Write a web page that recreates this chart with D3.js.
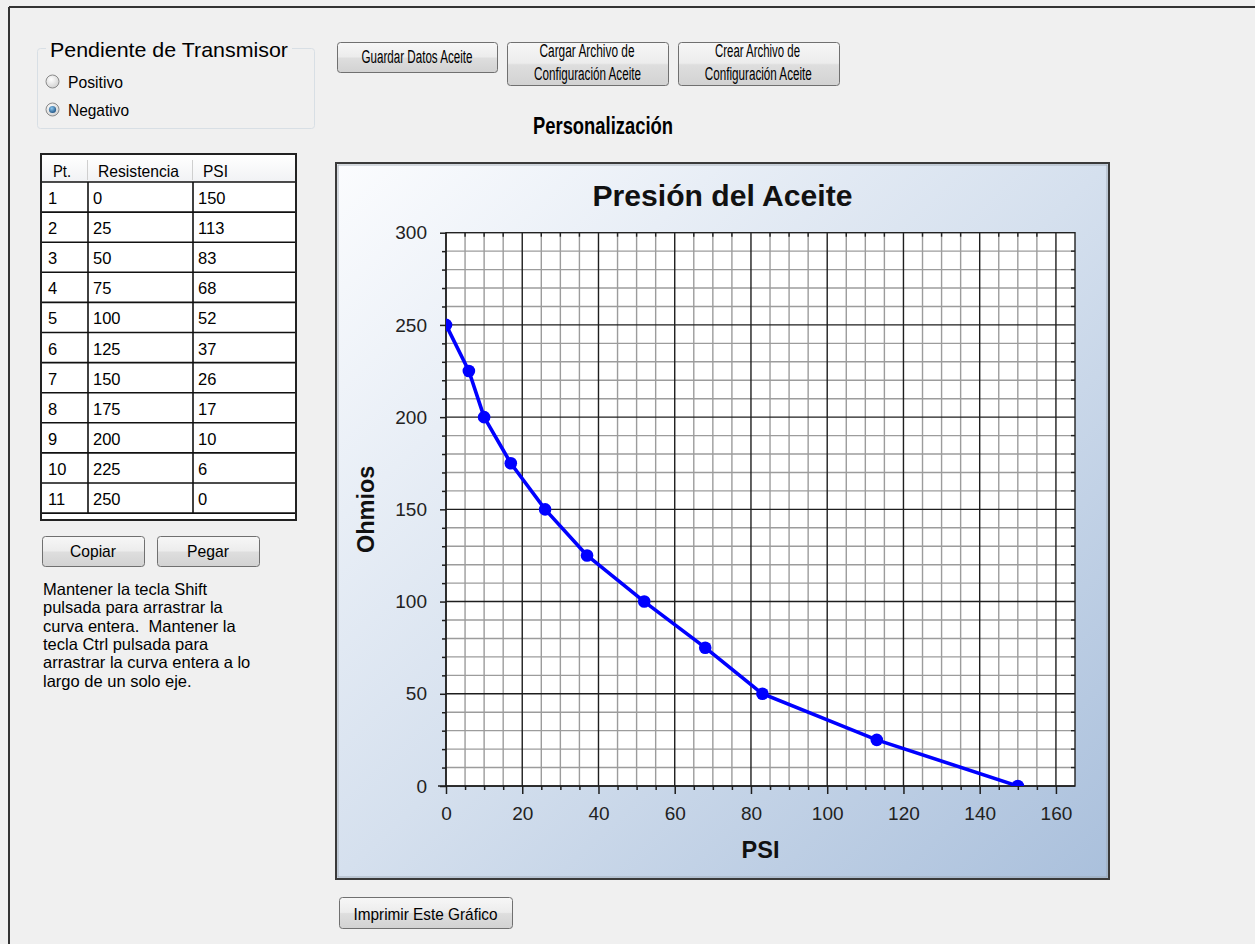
<!DOCTYPE html>
<html>
<head>
<meta charset="utf-8">
<script src="https://cdn.jsdelivr.net/npm/d3@7"></script>
<style>
  html, body { margin: 0; padding: 0; background: #f0f0f0; }
  svg { display: block; font-family: "Liberation Sans", Arial, sans-serif; }
  text { white-space: pre; }
</style>
</head>
<body>
<svg id="root" width="1255" height="944"></svg>
<script>
// ---------------- DATA ----------------
const pointIds    = ["1","2","3","4","5","6","7","8","9","10","11"];
const resistencia = [0, 25, 50, 75, 100, 125, 150, 175, 200, 225, 250];
const psi         = [150, 113, 83, 68, 52, 37, 26, 17, 10, 6, 0];
const tableHeaders = ["Pt.", "Resistencia", "PSI"];
const xTicks = [0, 20, 40, 60, 80, 100, 120, 140, 160];
const yTicks = [0, 50, 100, 150, 200, 250, 300];
const chartTitle = "Presión del Aceite";
const xAxisTitle = "PSI";
const yAxisTitle = "Ohmios";
const pageTitle = "Personalización";
const groupTitle = "Pendiente de Transmisor";
const radioLabels = ["Positivo", "Negativo"];
const helpLines = [
  "Mantener la tecla Shift",
  "pulsada para arrastrar la",
  "curva entera.  Mantener la",
  "tecla Ctrl pulsada para",
  "arrastrar la curva entera a lo",
  "largo de un solo eje."
];

// ---------------- SETUP ----------------
const svg = d3.select("#root");
const defs = svg.append("defs");

const btnGrad = defs.append("linearGradient").attr("id", "btnGrad")
  .attr("x1", 0).attr("y1", 0).attr("x2", 0).attr("y2", 1);
[["0%", "#f7f7f7"], ["48%", "#ececec"], ["52%", "#dedede"], ["100%", "#d2d2d2"]]
  .forEach(([o, c]) => btnGrad.append("stop").attr("offset", o).attr("stop-color", c));

const panelGrad = defs.append("linearGradient").attr("id", "panelGrad")
  .attr("x1", 0).attr("y1", 0).attr("x2", 1).attr("y2", 1);
[["0%", "#fbfcfe"], ["50%", "#d5e0ee"], ["100%", "#aac0dc"]]
  .forEach(([o, c]) => panelGrad.append("stop").attr("offset", o).attr("stop-color", c));

const radioGrad = defs.append("radialGradient").attr("id", "radioGrad")
  .attr("cx", "40%").attr("cy", "35%").attr("r", "70%");
[["0%", "#ffffff"], ["100%", "#cfcfcf"]]
  .forEach(([o, c]) => radioGrad.append("stop").attr("offset", o).attr("stop-color", c));
const dotGrad = defs.append("radialGradient").attr("id", "dotGrad")
  .attr("cx", "40%").attr("cy", "35%").attr("r", "70%");
[["0%", "#8cc8f0"], ["100%", "#1a4e80"]]
  .forEach(([o, c]) => dotGrad.append("stop").attr("offset", o).attr("stop-color", c));

function txt(g, s, x, y, o = {}) {
  const t = g.append("text").attr("x", x).attr("y", y).text(s)
    .attr("font-size", o.size || 16)
    .attr("font-weight", o.weight || "normal")
    .attr("text-anchor", o.anchor || "start")
    .attr("fill", o.fill || "#000");
  if (o.len) t.attr("textLength", o.len).attr("lengthAdjust", "spacingAndGlyphs");
  if (o.transform) t.attr("transform", o.transform);
  return t;
}

function button(g, x, y, w, h, lines) {
  g.append("rect").attr("x", x + 0.5).attr("y", y + 0.5).attr("width", w).attr("height", h)
    .attr("rx", 3).attr("fill", "url(#btnGrad)").attr("stroke", "#707070").attr("stroke-width", 1);
  lines.forEach(l => txt(g, l.s, l.cx, l.y, { size: l.size || 16, anchor: "middle", len: l.len }));
}

// ---------------- FRAME ----------------
svg.append("line").attr("x1", 9).attr("y1", 7).attr("x2", 1255).attr("y2", 7)
  .attr("stroke", "#333").attr("stroke-width", 2);
svg.append("line").attr("x1", 9).attr("y1", 7).attr("x2", 9).attr("y2", 944)
  .attr("stroke", "#333").attr("stroke-width", 2);

// ---------------- GROUP BOX ----------------
const gb = svg.append("g");
gb.append("rect").attr("x", 37.5).attr("y", 48.5).attr("width", 277).attr("height", 80)
  .attr("rx", 3).attr("fill", "none").attr("stroke", "#d8dfe5").attr("stroke-width", 1);
gb.append("rect").attr("x", 46).attr("y", 44).attr("width", 246).attr("height", 10).attr("fill", "#f0f0f0");
txt(gb, groupTitle, 50, 57, { size: 21, len: 238 });
const radioY = [81.5, 109.5];
radioLabels.forEach((lab, i) => {
  gb.append("circle").attr("cx", 52.5).attr("cy", radioY[i]).attr("r", 6.5)
    .attr("fill", "url(#radioGrad)").attr("stroke", "#8a8a8a").attr("stroke-width", 1);
  if (i === 1) gb.append("circle").attr("cx", 52.5).attr("cy", radioY[i]).attr("r", 3.6)
    .attr("fill", "url(#dotGrad)");
  txt(gb, lab, 68, radioY[i] + 6, { size: 17, len: i === 0 ? 55 : 61 });
});

// ---------------- TOP BUTTONS ----------------
const tb = svg.append("g");
button(tb, 337, 42, 160, 30, [{ s: "Guardar Datos Aceite", cx: 417, y: 63, size: 18, len: 111 }]);
button(tb, 507, 42, 161, 43, [
  { s: "Cargar Archivo de", cx: 587, y: 57, size: 18, len: 95 },
  { s: "Configuración Aceite", cx: 587.5, y: 80, size: 18, len: 107 }]);
button(tb, 678, 42, 161, 43, [
  { s: "Crear Archivo de", cx: 757.5, y: 57, size: 18, len: 85 },
  { s: "Configuración Aceite", cx: 758.3, y: 80, size: 18, len: 107 }]);
txt(svg, pageTitle, 603, 134, { size: 24, weight: "bold", anchor: "middle", len: 140 });

// ---------------- TABLE ----------------
const tg = svg.append("g");
const colEdges = [41, 88, 193, 296];
const headTop = 155, headBot = 182, rowH = 30.1;
const tableBottom = 520;
tg.append("rect").attr("x", colEdges[0]).attr("y", 154).attr("width", colEdges[3] - colEdges[0])
  .attr("height", tableBottom - 154).attr("fill", "#fff");
const hdrGrad = defs.append("linearGradient").attr("id", "hdrGrad").attr("x1", 0).attr("y1", 0).attr("x2", 0).attr("y2", 1);
[["0%", "#ffffff"], ["100%", "#f1f2f4"]].forEach(([o, c]) => hdrGrad.append("stop").attr("offset", o).attr("stop-color", c));
tg.append("rect").attr("x", colEdges[0]).attr("y", headTop).attr("width", colEdges[3] - colEdges[0])
  .attr("height", headBot - headTop).attr("fill", "url(#hdrGrad)");
[1, 2].forEach(c => tg.append("line").attr("x1", colEdges[c] - 0.5).attr("x2", colEdges[c] - 0.5)
  .attr("y1", 160).attr("y2", 180).attr("stroke", "#cfcfcf").attr("stroke-width", 1));
const headX = [53, 98, 203], headLen = [18, 81, 25];
tableHeaders.forEach((h, i) => txt(tg, h, headX[i], 177, { size: 16.5, len: headLen[i] }));

const rowsY = d3.range(pointIds.length).map(i => headBot + i * rowH);
const cellX = [48, 93, 198];
pointIds.forEach((p, i) => {
  const y0 = rowsY[i];
  tg.append("line").attr("x1", colEdges[0]).attr("x2", colEdges[3]).attr("y1", y0 + rowH).attr("y2", y0 + rowH)
    .attr("stroke", "#111").attr("stroke-width", 1.6);
  txt(tg, p, cellX[0], y0 + 22, { size: 16.5 });
  txt(tg, String(resistencia[i]), cellX[1], y0 + 22, { size: 16.5 });
  txt(tg, String(psi[i]), cellX[2], y0 + 22, { size: 16.5 });
});
tg.append("line").attr("x1", colEdges[0]).attr("x2", colEdges[3]).attr("y1", headBot).attr("y2", headBot)
  .attr("stroke", "#111").attr("stroke-width", 1.6);
[1, 2].forEach(c => tg.append("line").attr("x1", colEdges[c]).attr("x2", colEdges[c])
  .attr("y1", headBot).attr("y2", headBot + rowH * pointIds.length).attr("stroke", "#111").attr("stroke-width", 1.6));
tg.append("rect").attr("x", colEdges[0]).attr("y", 154).attr("width", colEdges[3] - colEdges[0])
  .attr("height", tableBottom - 154).attr("fill", "none").attr("stroke", "#222").attr("stroke-width", 2);

// ---------------- COPY / PASTE ----------------
const bb = svg.append("g");
button(bb, 42, 536, 102, 30, [{ s: "Copiar", cx: 93, y: 557, size: 17, len: 46 }]);
button(bb, 157, 536, 102, 30, [{ s: "Pegar", cx: 208, y: 557, size: 17, len: 42 }]);
const helpLen = [166, 165, 192, 153, 197, 147];
helpLines.forEach((l, i) => txt(svg, l, 43, 595 + i * 18.35, { size: 16.5 }));

// ---------------- CHART PANEL ----------------
const panel = { x: 336, y: 163, w: 773, h: 716 };
svg.append("rect").attr("x", panel.x).attr("y", panel.y).attr("width", panel.w).attr("height", panel.h)
  .attr("fill", "url(#panelGrad)").attr("stroke", "#3a3a3a").attr("stroke-width", 2);
svg.append("rect").attr("x", panel.x + 2).attr("y", panel.y + 2).attr("width", panel.w - 4).attr("height", panel.h - 4)
  .attr("fill", "none").attr("stroke", "#9aa3ad").attr("stroke-width", 0.8);

const plot = { left: 446, right: 1075, top: 232.7, bottom: 786 };
const x = d3.scaleLinear().domain([0, 165]).range([plot.left, plot.right]);
const y = d3.scaleLinear().domain([0, 300]).range([plot.bottom, plot.top]);

const cg = svg.append("g");
cg.append("rect").attr("x", plot.left).attr("y", plot.top).attr("width", plot.right - plot.left)
  .attr("height", plot.bottom - plot.top).attr("fill", "#fff");

const xMinor = d3.range(5, 165, 5).filter(v => v % 20 !== 0);
const yMinor = d3.range(10, 300, 10).filter(v => v % 50 !== 0);
const xMajor = xTicks.filter(v => v > 0);
const yMajor = yTicks.filter(v => v > 0 && v < 300);

cg.selectAll(".vminor").data(xMinor).join("line")
  .attr("x1", d => x(d)).attr("x2", d => x(d)).attr("y1", plot.top).attr("y2", plot.bottom)
  .attr("stroke", "#9c9c9c").attr("stroke-width", 1.4);
cg.selectAll(".hminor").data(yMinor).join("line")
  .attr("y1", d => y(d)).attr("y2", d => y(d)).attr("x1", plot.left).attr("x2", plot.right)
  .attr("stroke", "#9c9c9c").attr("stroke-width", 1.4);
cg.selectAll(".vmajor").data(xMajor).join("line")
  .attr("x1", d => x(d)).attr("x2", d => x(d)).attr("y1", plot.top).attr("y2", plot.bottom)
  .attr("stroke", "#1e1e1e").attr("stroke-width", 1.4);
cg.selectAll(".hmajor").data(yMajor).join("line")
  .attr("y1", d => y(d)).attr("y2", d => y(d)).attr("x1", plot.left).attr("x2", plot.right)
  .attr("stroke", "#1e1e1e").attr("stroke-width", 1.4);

cg.append("rect").attr("x", plot.left).attr("y", plot.top).attr("width", plot.right - plot.left)
  .attr("height", plot.bottom - plot.top).attr("fill", "none").attr("stroke", "#222").attr("stroke-width", 1.4);

cg.selectAll(".rtick").data(yMinor).join("line")
  .attr("x1", plot.right - 4).attr("x2", plot.right).attr("y1", d => y(d)).attr("y2", d => y(d))
  .attr("stroke", "#222").attr("stroke-width", 1.4);
cg.selectAll(".ttick").data(xMinor).join("line")
  .attr("y1", plot.top).attr("y2", plot.top + 4).attr("x1", d => x(d)).attr("x2", d => x(d))
  .attr("stroke", "#222").attr("stroke-width", 1.4);

const xAxis = d3.axisBottom(x).tickValues(xTicks).tickSize(8).tickPadding(13).tickFormat(d3.format("d"));
const xAxisMinor = d3.axisBottom(x).tickValues(xMinor).tickSize(4).tickFormat("");
const yAxis = d3.axisLeft(y).tickValues(yTicks).tickSize(6).tickPadding(13).tickFormat(d3.format("d"));
const yAxisMinor = d3.axisLeft(y).tickValues(yMinor).tickSize(4).tickFormat("");

function styleAxis(sel) {
  sel.select(".domain").attr("stroke", "#1e1e1e").attr("stroke-width", 1.5);
  sel.selectAll(".tick line").attr("stroke", "#1e1e1e").attr("stroke-width", 1.5);
  sel.selectAll(".tick text").attr("font-size", 19).attr("fill", "#222")
    .attr("font-family", "'Liberation Sans', Arial, sans-serif");
}
const gx = cg.append("g").attr("transform", `translate(0,${plot.bottom})`).call(xAxis).call(styleAxis);
cg.append("g").attr("transform", `translate(0,${plot.bottom})`).call(xAxisMinor).call(styleAxis)
  .select(".domain").remove();
const gy = cg.append("g").attr("transform", `translate(${plot.left},0)`).call(yAxis).call(styleAxis);
cg.append("g").attr("transform", `translate(${plot.left},0)`).call(yAxisMinor).call(styleAxis)
  .select(".domain").remove();
gx.select(".domain").attr("d", `M${plot.left - 8},0H${plot.right}`);
gy.select(".domain").attr("d", `M0,${plot.bottom}V${plot.top}`);

defs.append("clipPath").attr("id", "plotClip").append("rect")
  .attr("x", plot.left).attr("y", plot.top).attr("width", plot.right - plot.left).attr("height", plot.bottom - plot.top);
const series = psi.map((p, i) => ({ x: p, y: resistencia[i] }));
const sg = cg.append("g").attr("clip-path", "url(#plotClip)");
sg.append("path").datum(series)
  .attr("d", d3.line().x(d => x(d.x)).y(d => y(d.y)))
  .attr("fill", "none").attr("stroke", "#0000ff").attr("stroke-width", 3.6).attr("stroke-linejoin", "round");
sg.selectAll(".pt").data(series).join("circle")
  .attr("cx", d => x(d.x)).attr("cy", d => y(d.y)).attr("r", 6.3).attr("fill", "#0000ff");

txt(svg, chartTitle, 722.5, 206, { size: 30, weight: "bold", anchor: "middle", len: 260, fill: "#111" });
txt(svg, xAxisTitle, (plot.left + plot.right) / 2, 858, { size: 23.5, weight: "bold", anchor: "middle", fill: "#111" });
txt(svg, yAxisTitle, 0, 0, { size: 23.5, weight: "bold", anchor: "middle", fill: "#111",
  transform: `translate(374,${(plot.top + plot.bottom) / 2}) rotate(-90)` });

button(svg.append("g"), 339, 897, 173, 31, [{ s: "Imprimir Este Gráfico", cx: 425.5, y: 920, size: 17, len: 144 }]);
</script>
</body>
</html>
